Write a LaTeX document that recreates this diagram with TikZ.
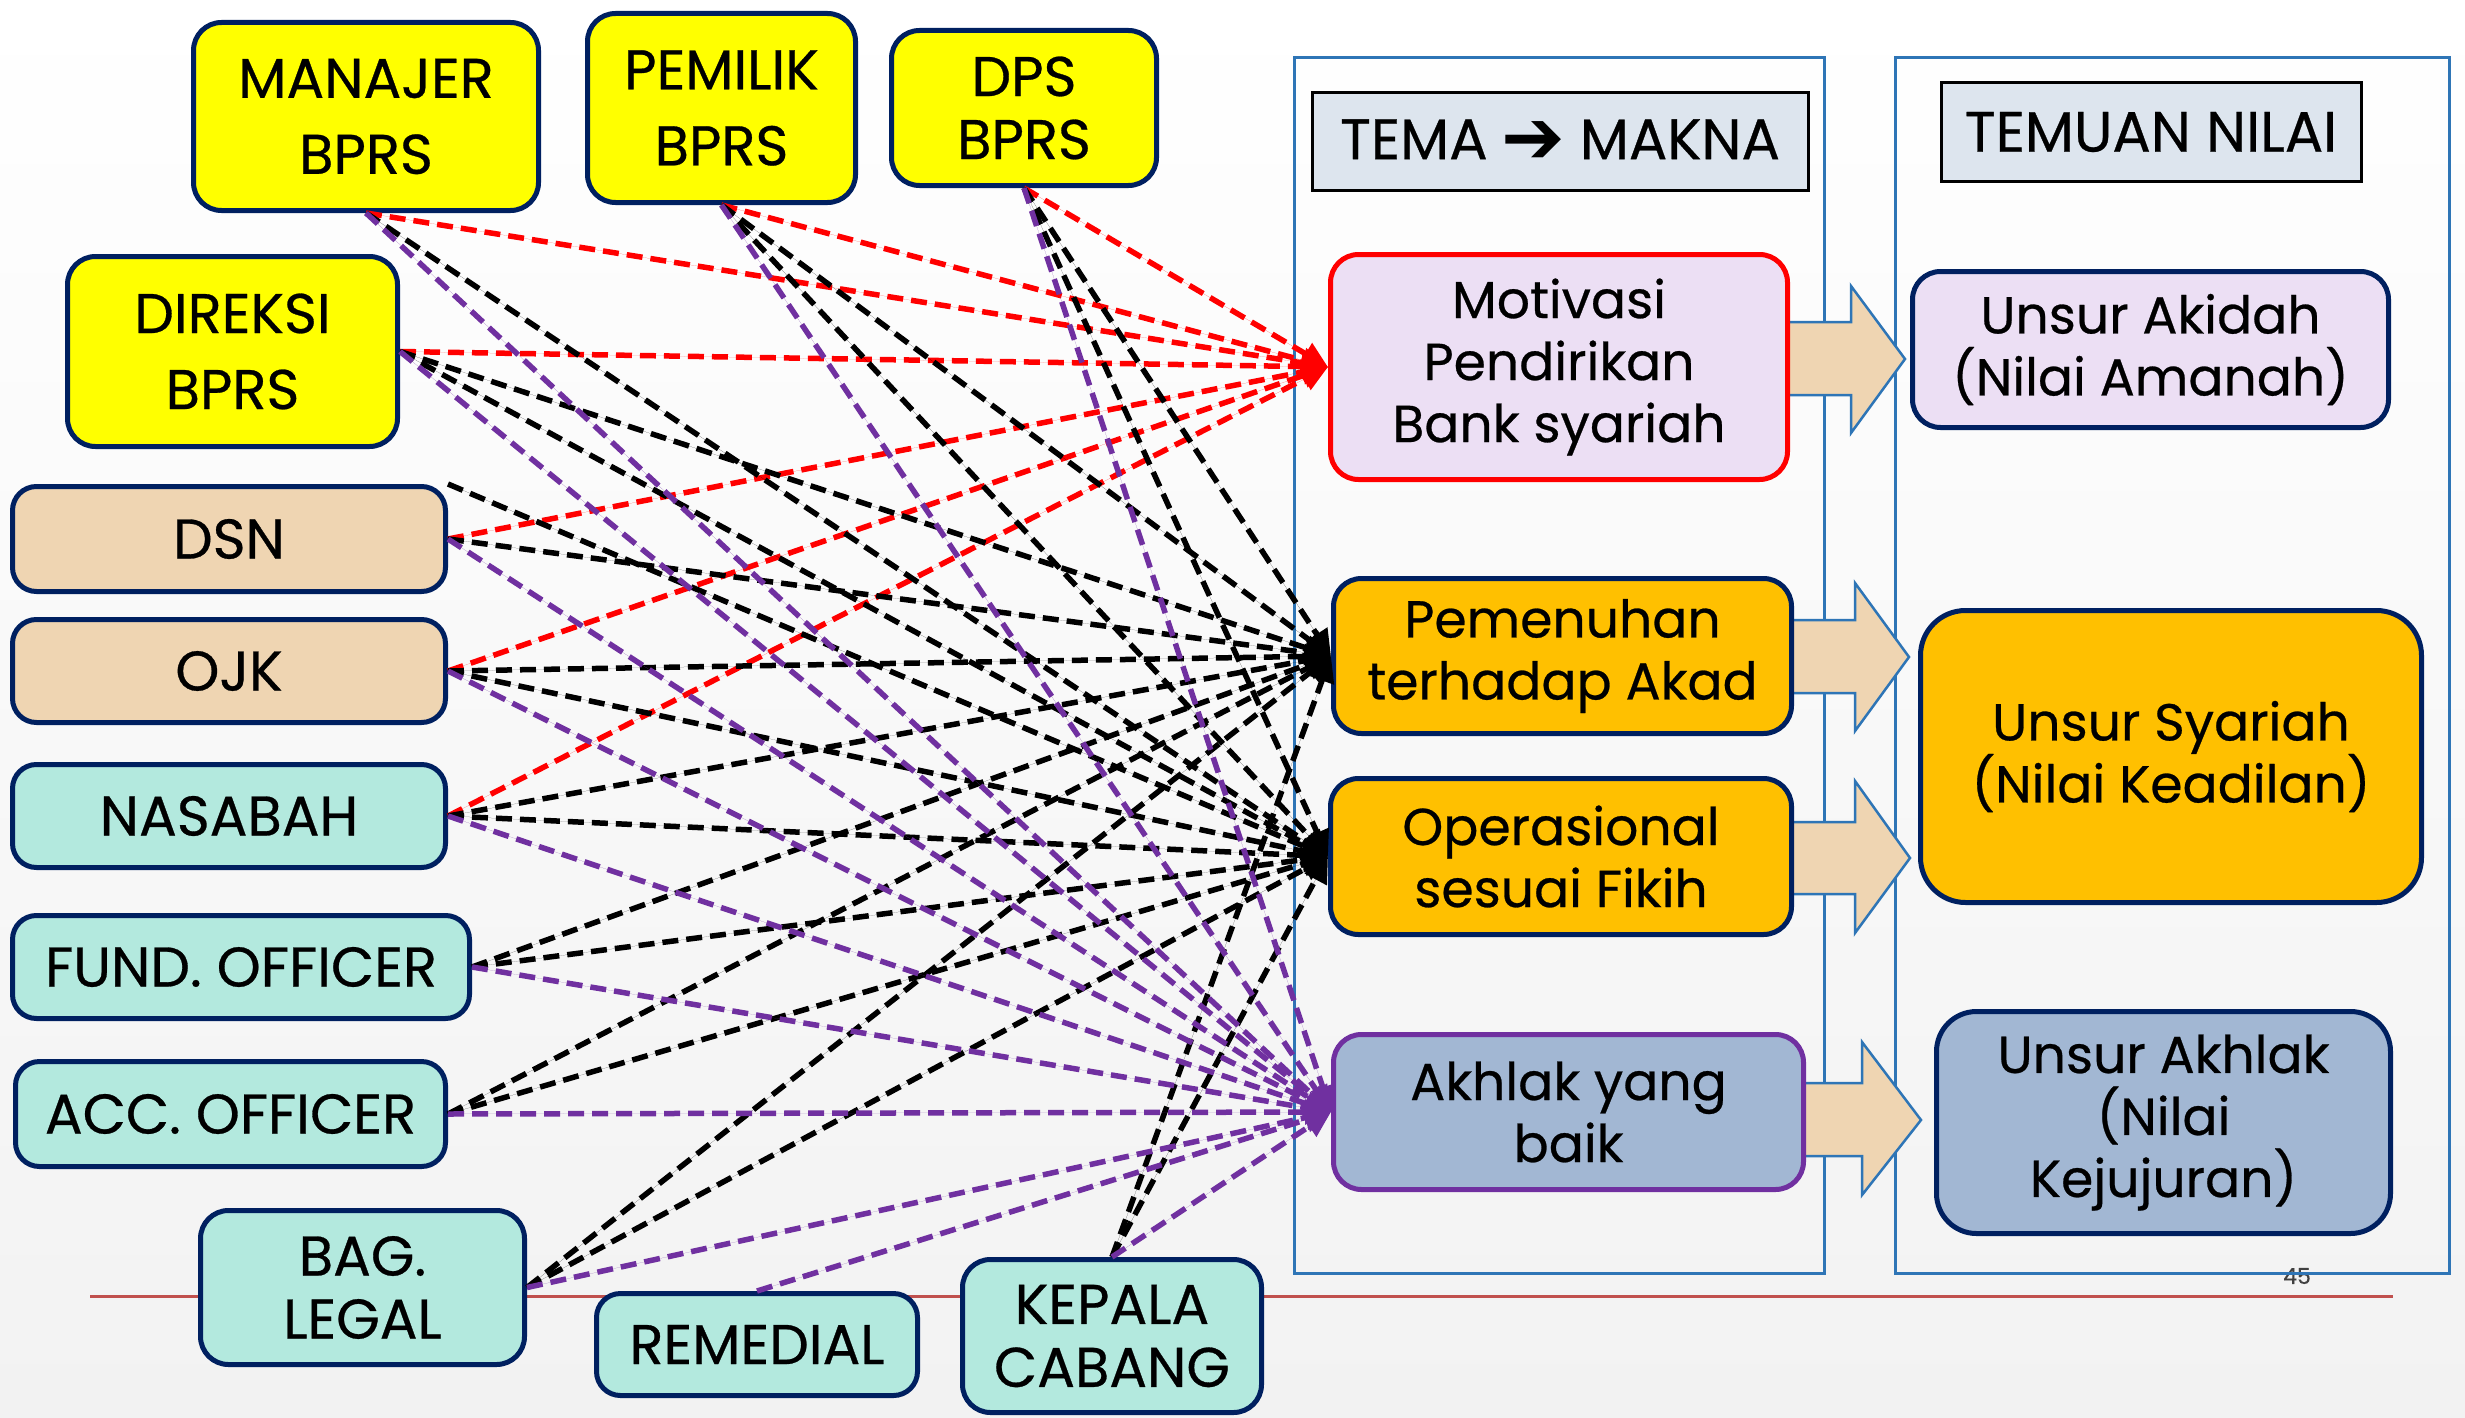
\documentclass[tikz,border=0pt]{standalone}
\usepackage{fontspec}
\setmainfont{Poppins}[FakeBold=0.5]
\newfontfamily\symfont{DejaVu Sans}
\usetikzlibrary{arrows.meta,calc}

\definecolor{navy}{HTML}{002060}
\definecolor{yel}{HTML}{FFFF00}
\definecolor{sand}{HTML}{EFD5B2}
\definecolor{mint}{HTML}{B3E9DE}
\definecolor{lav}{HTML}{ECDFF4}
\definecolor{gold}{HTML}{FFC000}
\definecolor{steel}{HTML}{A2B7D3}
\definecolor{pur}{HTML}{7030A0}
\definecolor{panelblue}{HTML}{2E75B6}
\definecolor{hdr}{HTML}{DDE5EE}
\definecolor{rulered}{HTML}{C0504D}
\definecolor{bggray}{HTML}{F2F2F2}

\tikzset{
  box/.style={draw=navy, line width=5pt, rounded corners=28pt, align=center,
    inner sep=0pt, font=\fontsize{52}{62}\selectfont},
  leftbox/.style={box, font=\fontsize{56}{63}\selectfont},
  tallbox/.style={box, font=\fontsize{56}{76}\selectfont},
  header/.style={draw=black, line width=3pt, fill=hdr, inner sep=0pt,
    font=\fontsize{57}{62}\selectfont},
  panel/.style={draw=panelblue, line width=3pt},
  blockarrow/.style={fill=sand, draw=panelblue, line width=2.5pt, line join=miter},
  link/.style={line width=5.5pt, dash pattern=on 16pt off 8pt,
    -{Triangle[length=26pt,width=24pt]}},
  redlink/.style={link, draw=red, fill=red},
  blacklink/.style={link, draw=black, fill=black},
  purlink/.style={link, draw=pur, fill=pur},
}

\begin{document}
\begin{tikzpicture}[x=1pt,y=-1pt]
\useasboundingbox (0,0) rectangle (2465,1418);

% background
\shade[top color=white, middle color=white, bottom color=bggray] (0,0) rectangle (2465,1418);

% page rule and number
\draw[rulered, line width=3pt] (90,1296) -- (2393,1296);
\node[font=\fontsize{22}{24}\selectfont, text=black!75] (pagenum) at (2297,1276) {45};

% column frames
\draw[panel] (1294,58) rectangle (1824,1273);
\draw[panel] (1895,58) rectangle (2449,1273);

% block arrows between columns
\filldraw[blockarrow] (1785,322) -- (1851,322) -- (1851,286) -- (1905,359) -- (1851,433) -- (1851,395) -- (1785,395) -- cycle;
\filldraw[blockarrow] (1785,620) -- (1855,620) -- (1855,583) -- (1909,657) -- (1855,731) -- (1855,693) -- (1785,693) -- cycle;
\filldraw[blockarrow] (1785,822) -- (1855,822) -- (1855,781) -- (1910,858) -- (1855,933) -- (1855,894) -- (1785,894) -- cycle;
\filldraw[blockarrow] (1795,1083) -- (1862,1083) -- (1862,1042) -- (1921,1120) -- (1862,1195) -- (1862,1156) -- (1795,1156) -- cycle;

% headers
\node[header, minimum width=496pt, minimum height=97pt] (tema) at (1560,141.5)
  {TEMA\hspace{0.25em}{\symfont\bfseries\fontsize{76}{62}\selectfont\raisebox{-0.06em}{➔}}\hspace{0.25em}MAKNA};
\node[header, minimum width=420pt, minimum height=98pt] (temuan) at (2151,132) {TEMUAN NILAI};

% themes
\node[box, draw=red, fill=lav, minimum width=457pt, minimum height=225pt] (mot) at (1559,367)
  {Motivasi\\Pendirikan\\Bank syariah};
\node[box, fill=gold, minimum width=458pt, minimum height=155pt] (pem) at (1562.5,656)
  {Pemenuhan\\terhadap Akad};
\node[box, fill=gold, minimum width=461pt, minimum height=156pt] (ops) at (1561,856.5)
  {Operasional\\sesuai Fikih};
\node[box, draw=pur, fill=steel, minimum width=470pt, minimum height=155pt] (akh) at (1568.5,1112)
  {Akhlak yang\\baik};

% values
\node[box, fill=lav, minimum width=476pt, minimum height=156pt] (akidah) at (2150.5,349.5)
  {Unsur Akidah\\(Nilai Amanah)};
\node[box, fill=gold, rounded corners=45pt, minimum width=501pt, minimum height=292pt] (syariah) at (2171,756.5)
  {Unsur Syariah\\(Nilai Keadilan)};
\node[box, fill=steel, rounded corners=40pt, minimum width=454pt, minimum height=222pt] (akhlak) at (2163.5,1122.5)
  {Unsur Akhlak\\(Nilai\\Kejujuran)};

% informants
\node[tallbox, fill=yel, minimum width=345pt, minimum height=188pt] (man) at (366,116.5) {MANAJER\\BPRS};
\node[tallbox, fill=yel, minimum width=268pt, minimum height=189pt] (pml) at (721.5,108) {PEMILIK\\BPRS};
\node[leftbox, fill=yel, minimum width=265pt, minimum height=155pt] (dps) at (1024,108) {DPS\\BPRS};
\node[tallbox, fill=yel, minimum width=330pt, minimum height=190pt] (dir) at (232.5,351.5) {DIREKSI\\BPRS};
\node[leftbox, fill=sand, rounded corners=24pt, minimum width=433pt, minimum height=105pt] (dsn) at (229,539) {DSN};
\node[leftbox, fill=sand, rounded corners=24pt, minimum width=433pt, minimum height=103pt] (ojk) at (229,671) {OJK};
\node[leftbox, fill=mint, rounded corners=24pt, minimum width=433pt, minimum height=103pt] (nas) at (229,816) {NASABAH};
\node[leftbox, fill=mint, rounded corners=24pt, minimum width=457pt, minimum height=103pt] (fund) at (241,967) {FUND. OFFICER};
\node[leftbox, fill=mint, rounded corners=24pt, minimum width=430pt, minimum height=105pt] (acc) at (230.5,1114) {ACC. OFFICER};
\node[leftbox, fill=mint, minimum width=324pt, minimum height=154pt] (bag) at (362.5,1287.5) {BAG.\\LEGAL};
\node[leftbox, fill=mint, rounded corners=24pt, minimum width=321pt, minimum height=102pt] (rem) at (757,1344.5) {REMEDIAL};
\node[leftbox, fill=mint, minimum width=299pt, minimum height=153pt] (kep) at (1112,1336) {KEPALA\\CABANG};

% links towards "Motivasi Pendirikan Bank syariah"
\foreach \s in {man.south, pml.south, dps.south, dir.east, dsn.east, ojk.east, nas.east}
  \draw[redlink] (\s) -- (mot.west);

% links towards "Pemenuhan terhadap Akad"
\foreach \s in {pml.south, dps.south, dir.east, dsn.east, ojk.east, nas.east, fund.east, acc.east, bag.east, kep.north}
  \draw[blacklink] (\s) -- (pem.west);

% links towards "Operasional sesuai Fikih"
\foreach \s in {man.south, pml.south, dps.south, dir.east, dsn.north east, ojk.east, nas.east, fund.east, acc.east, bag.east, kep.north}
  \draw[blacklink] (\s) -- (ops.west);

% links towards "Akhlak yang baik"
\foreach \s in {man.south, pml.south, dps.south, dir.east, dsn.east, ojk.east, nas.east, fund.east, acc.east, bag.east, rem.north, kep.north}
  \draw[purlink] (\s) -- (akh.west);

\end{tikzpicture}
\end{document}
